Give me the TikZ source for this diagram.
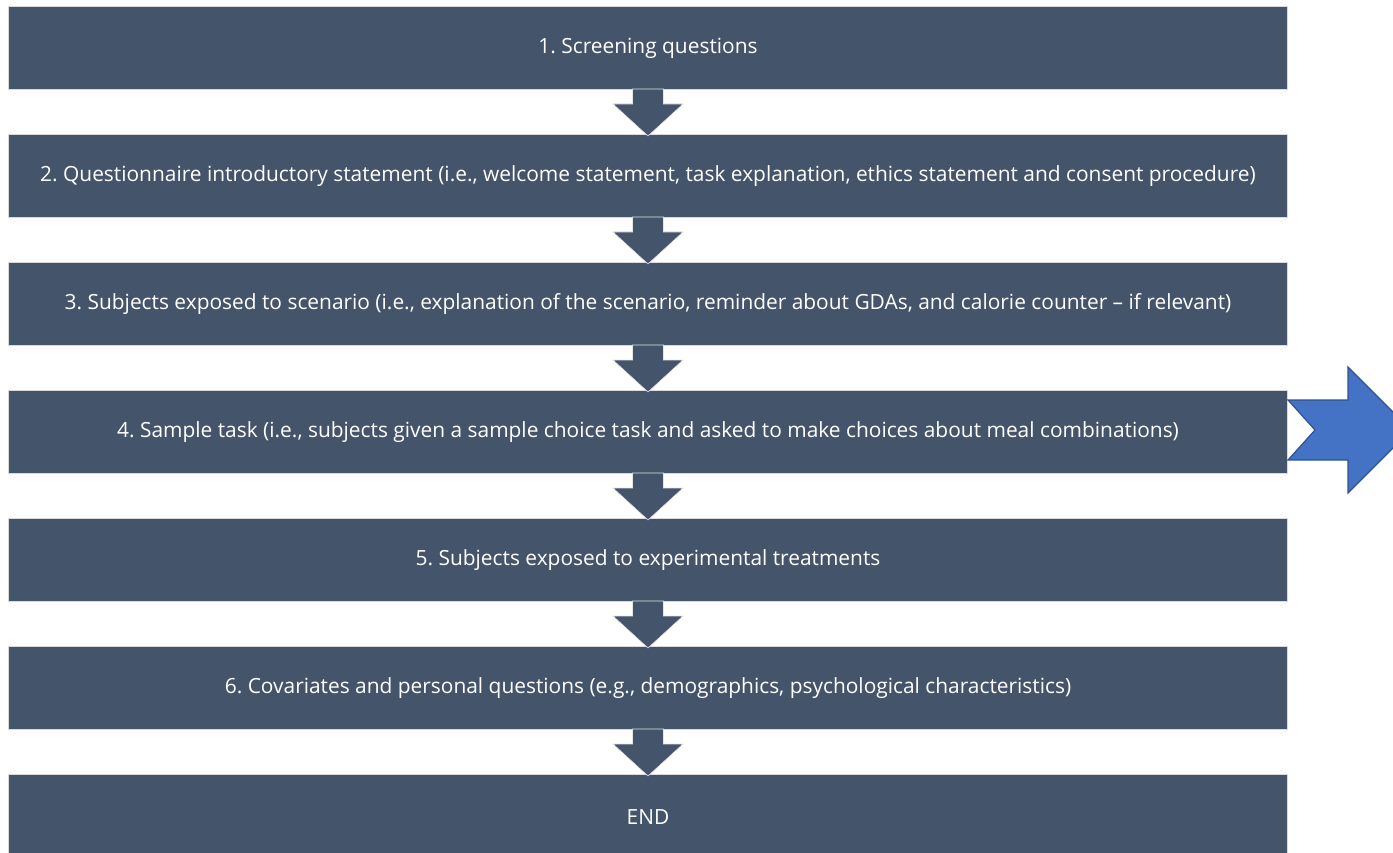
\documentclass[tikz,border=0pt]{standalone}
\usepackage{fontspec}
\setmainfont{Open Sans}
\usetikzlibrary{calc}
\definecolor{boxfill}{HTML}{44546A}
\definecolor{boxedge}{HTML}{D9D9D9}
\definecolor{arrfill}{HTML}{4472C4}
\definecolor{arredge}{HTML}{2F528F}
\frenchspacing
\begin{document}
\begin{tikzpicture}[x=1pt,y=-1pt,
  stepbox/.style={draw=boxedge,line width=1pt,fill=boxfill,text=white,
    minimum width=1279pt,minimum height=83pt,inner sep=0pt,anchor=north west,
    font=\fontsize{20.9}{24}\selectfont\frenchspacing},
  downarr/.style={fill=boxfill,draw=white!85!boxfill,line width=0.6pt}]
\useasboundingbox (0,0) rectangle (1393,853);
\clip (0,0) rectangle (1393,853);
\node[stepbox] (b1) at (8,6) {1. Screening questions};
\node[stepbox] (b2) at (8,134) {2. Questionnaire introductory statement (i.e., welcome statement, task explanation, ethics statement and consent procedure)};
\node[stepbox] (b3) at (8,262) {3. Subjects exposed to scenario (i.e., explanation of the scenario, reminder about GDAs, and calorie counter -- if relevant)};
\node[stepbox] (b4) at (8,390) {4. Sample task (i.e., subjects given a sample choice task and asked to make choices about meal combinations)};
\node[stepbox] (b5) at (8,518) {5. Subjects exposed to experimental treatments};
\node[stepbox] (b6) at (8,646) {6. Covariates and personal questions (e.g., demographics, psychological characteristics)};
\node[stepbox,minimum height=95pt] (b7) at (8,774) {\raisebox{10pt}{END}};
\foreach \a/\b in {b1/b2,b2/b3,b3/b4,b4/b5,b5/b6,b6/b7}{
  \path (\a.south) coordinate (s);
  \path (\b.north) coordinate (t);
  \draw[downarr] ($(s)+(-15.5,-1)$) -- ($(s)+(15.5,-1)$) -- ($(s)+(15.5,14)$) -- ($(s)+(35,14)$)
     -- ($(t)+(0,2)$) -- ($(s)+(-35,14)$) -- ($(s)+(-15.5,14)$) -- cycle;
}
\draw[fill=arrfill,draw=arredge,line width=1.2pt]
  (1288,400) -- (1348,400) -- (1348,367) -- (1411,430) -- (1348,493) -- (1348,460)
  -- (1288,460) -- (1315,430) -- cycle;
\end{tikzpicture}
\end{document}
